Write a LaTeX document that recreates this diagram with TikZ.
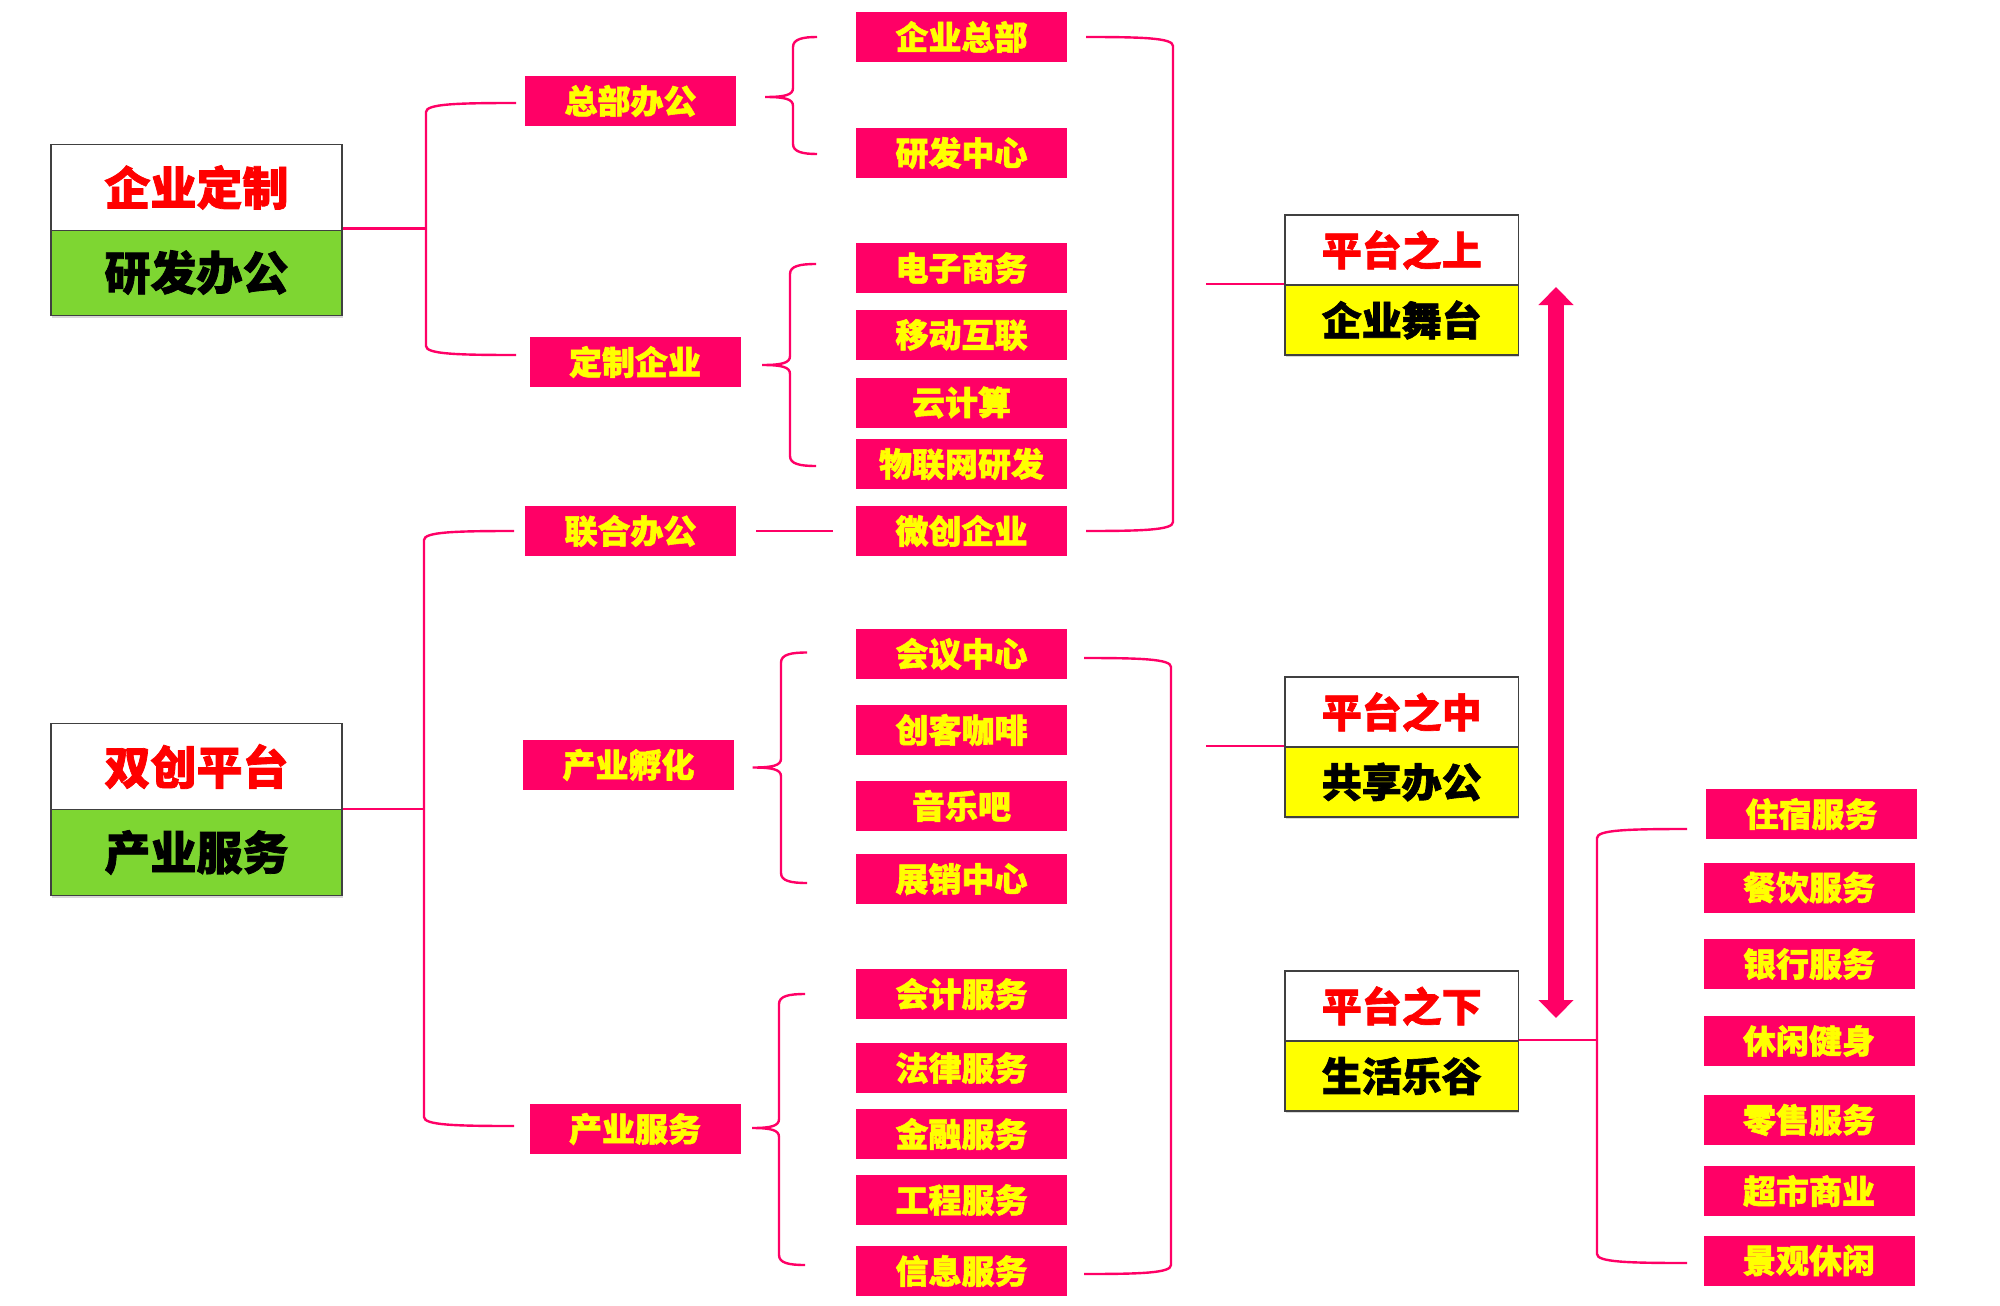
\documentclass[tikz,border=0pt]{standalone}
\usepackage{fontspec}
\newfontfamily\cjk{Noto Sans CJK SC}[BoldFeatures={FakeBold=1.6}]
\usetikzlibrary{arrows.meta,shadows}
\definecolor{pk}{HTML}{FF0066}
\definecolor{ylw}{HTML}{FFFF00}
\definecolor{rd}{HTML}{FF0000}
\definecolor{grn}{HTML}{7ED632}
\definecolor{bd}{HTML}{404040}
\newcommand\curlyb[6]{% tipx, tipy, vx, top, bot, endx
  \draw[conn] (#6,#4) .. controls ({#3+10},#4) and (#3,{#4+2}) .. (#3,{#4+10})
    -- (#3,{#2-9}) .. controls (#3,{#2-2}) and ({#3-8},#2) .. (#1,#2)
    .. controls ({#3-8},#2) and (#3,{#2+2}) .. (#3,{#2+9})
    -- (#3,{#5-10}) .. controls (#3,{#5-2}) and ({#3+10},#5) .. (#6,#5);
}
\newcommand\sqbl[4]{% vx, top, bot, endx  (opening to the right)
  \draw[conn] (#4,#2) .. controls ({#1+30},#2) and (#1,{#2+1}) .. (#1,{#2+9})
    -- (#1,{#3-9}) .. controls (#1,{#3-1}) and ({#1+30},#3) .. (#4,#3);
}
\newcommand\sqbr[4]{% vx, top, bot, endx  (opening to the left)
  \draw[conn] (#4,#2) .. controls ({#1-30},#2) and (#1,{#2+1}) .. (#1,{#2+9})
    -- (#1,{#3-9}) .. controls (#1,{#3-1}) and ({#1-30},#3) .. (#4,#3);
}
\begin{document}
\begin{tikzpicture}[x=0.5pt,y=-0.5pt,
  pbox/.style={fill=pk, text=ylw, font=\cjk\bfseries\fontsize{16.5}{18}\selectfont,
    minimum width=105.5pt, minimum height=25pt, inner sep=0pt},
  conn/.style={draw=pk, line width=1.2pt},
  ttop/.style={draw=bd, line width=0.8pt, fill=white, text=rd,
    font=\cjk\bfseries\fontsize{23}{25}\selectfont, minimum width=145.5pt, minimum height=43pt, inner sep=0pt},
  tbot/.style={draw=bd, line width=0.8pt, fill=grn, text=black,
    font=\cjk\bfseries\fontsize{23}{25}\selectfont, minimum width=145.5pt, minimum height=43pt, inner sep=0pt,
    drop shadow={shadow xshift=0.4pt, shadow yshift=-1.2pt, opacity=0.3}},
  dtop/.style={draw=bd, line width=0.8pt, fill=white, text=rd,
    font=\cjk\bfseries\fontsize{20}{22}\selectfont, minimum width=116.75pt, minimum height=35pt, inner sep=0pt},
  dbot/.style={draw=bd, line width=0.8pt, fill=ylw, text=black,
    font=\cjk\bfseries\fontsize{20}{22}\selectfont, minimum width=116.75pt, minimum height=35pt, inner sep=0pt,
    drop shadow={shadow xshift=0.4pt, shadow yshift=-1.2pt, opacity=0.3}}
]
\useasboundingbox[fill=white] (0,0) rectangle (2000,1305);

% title boxes
\node[tbot] (A1b) at (196.5,272.5) {研发办公};
\node[ttop] (A1t) at (196.5,187.5) {企业定制};
\node[tbot] (A2b) at (196.5,852.5) {产业服务};
\node[ttop] (A2t) at (196.5,766.5) {双创平台};

% platform boxes
\node[dbot] (D1b) at (1401.75,320) {企业舞台};
\node[dtop] (D1t) at (1401.75,250) {平台之上};
\node[dbot] (D2b) at (1401.75,782) {共享办公};
\node[dtop] (D2t) at (1401.75,712) {平台之中};
\node[dbot] (D3b) at (1401.75,1076) {生活乐谷};
\node[dtop] (D3t) at (1401.75,1006) {平台之下};

% second column
\node[pbox] (zbbg) at (630.5,101) {总部办公};
\node[pbox] (dzqy) at (635,362) {定制企业};
\node[pbox] (lhbg) at (630.5,531) {联合办公};
\node[pbox] (cyfh) at (628.5,765) {产业孵化};
\node[pbox] (cyfw) at (635,1129) {产业服务};

% third column
\node[pbox] (qyzb) at (961.5,37) {企业总部};
\node[pbox] (yfzx) at (961.5,153) {研发中心};
\node[pbox] (dzsw) at (961.5,268) {电子商务};
\node[pbox] (ydhl) at (961.5,335) {移动互联};
\node[pbox] (yjs)  at (961.5,402.5) {云计算};
\node[pbox] (wlw)  at (961.5,464) {物联网研发};
\node[pbox] (wcqy) at (961.5,531) {微创企业};
\node[pbox] (hyzx) at (961.5,654) {会议中心};
\node[pbox] (ckkf) at (961.5,730) {创客咖啡};
\node[pbox] (yyb)  at (961.5,806) {音乐吧};
\node[pbox] (zxzx) at (961.5,879) {展销中心};
\node[pbox] (kjfw) at (961.5,994) {会计服务};
\node[pbox] (flfw) at (961.5,1068) {法律服务};
\node[pbox] (jrfw) at (961.5,1134) {金融服务};
\node[pbox] (gcfw) at (961.5,1200) {工程服务};
\node[pbox] (xxfw) at (961.5,1271) {信息服务};

% life column
\node[pbox] (zsfw) at (1811.5,814) {住宿服务};
\node[pbox] (cyfw2) at (1809,887.5) {餐饮服务};
\node[pbox] (yhfw) at (1809,964) {银行服务};
\node[pbox] (xxjs) at (1809,1041) {休闲健身};
\node[pbox] (lsfw) at (1809,1120) {零售服务};
\node[pbox] (cssy) at (1809,1191) {超市商业};
\node[pbox] (jgxx) at (1809,1260.5) {景观休闲};

% stems
\draw[conn] (A1b.north east) -- ++(84,0);
\draw[conn] (A2b.north east) -- ++(82,0);
\draw[conn] (D1b.north west) -- ++(-78,0);
\draw[conn] (D2b.north west) -- ++(-78,0);
\draw[conn] (D3b.north east) -- ++(79,0);
\draw[conn] ([xshift=10pt]lhbg.east) -- ([xshift=-11.5pt]wcqy.west);

% left brackets
\sqbl{426}{103}{355}{516}
\sqbl{424}{531}{1126}{514}
\sqbl{1597}{829}{1263}{1687}

% curly braces
\curlyb{765}{97}{793}{37}{154}{817}
\curlyb{762}{365}{790}{264}{466}{816}
\curlyb{752.7}{767.5}{781}{652.5}{883}{807}
\curlyb{752}{1128}{779}{994}{1265}{805}

% right brackets
\sqbr{1173}{37}{531}{1086}
\sqbr{1171}{658}{1274}{1084}

% double arrow
\draw[pk, line width=8pt, {Triangle[width=17pt,length=9pt]}-{Triangle[width=17pt,length=9pt]}] (1556,287) -- (1556,1018);
\end{tikzpicture}
\end{document}
